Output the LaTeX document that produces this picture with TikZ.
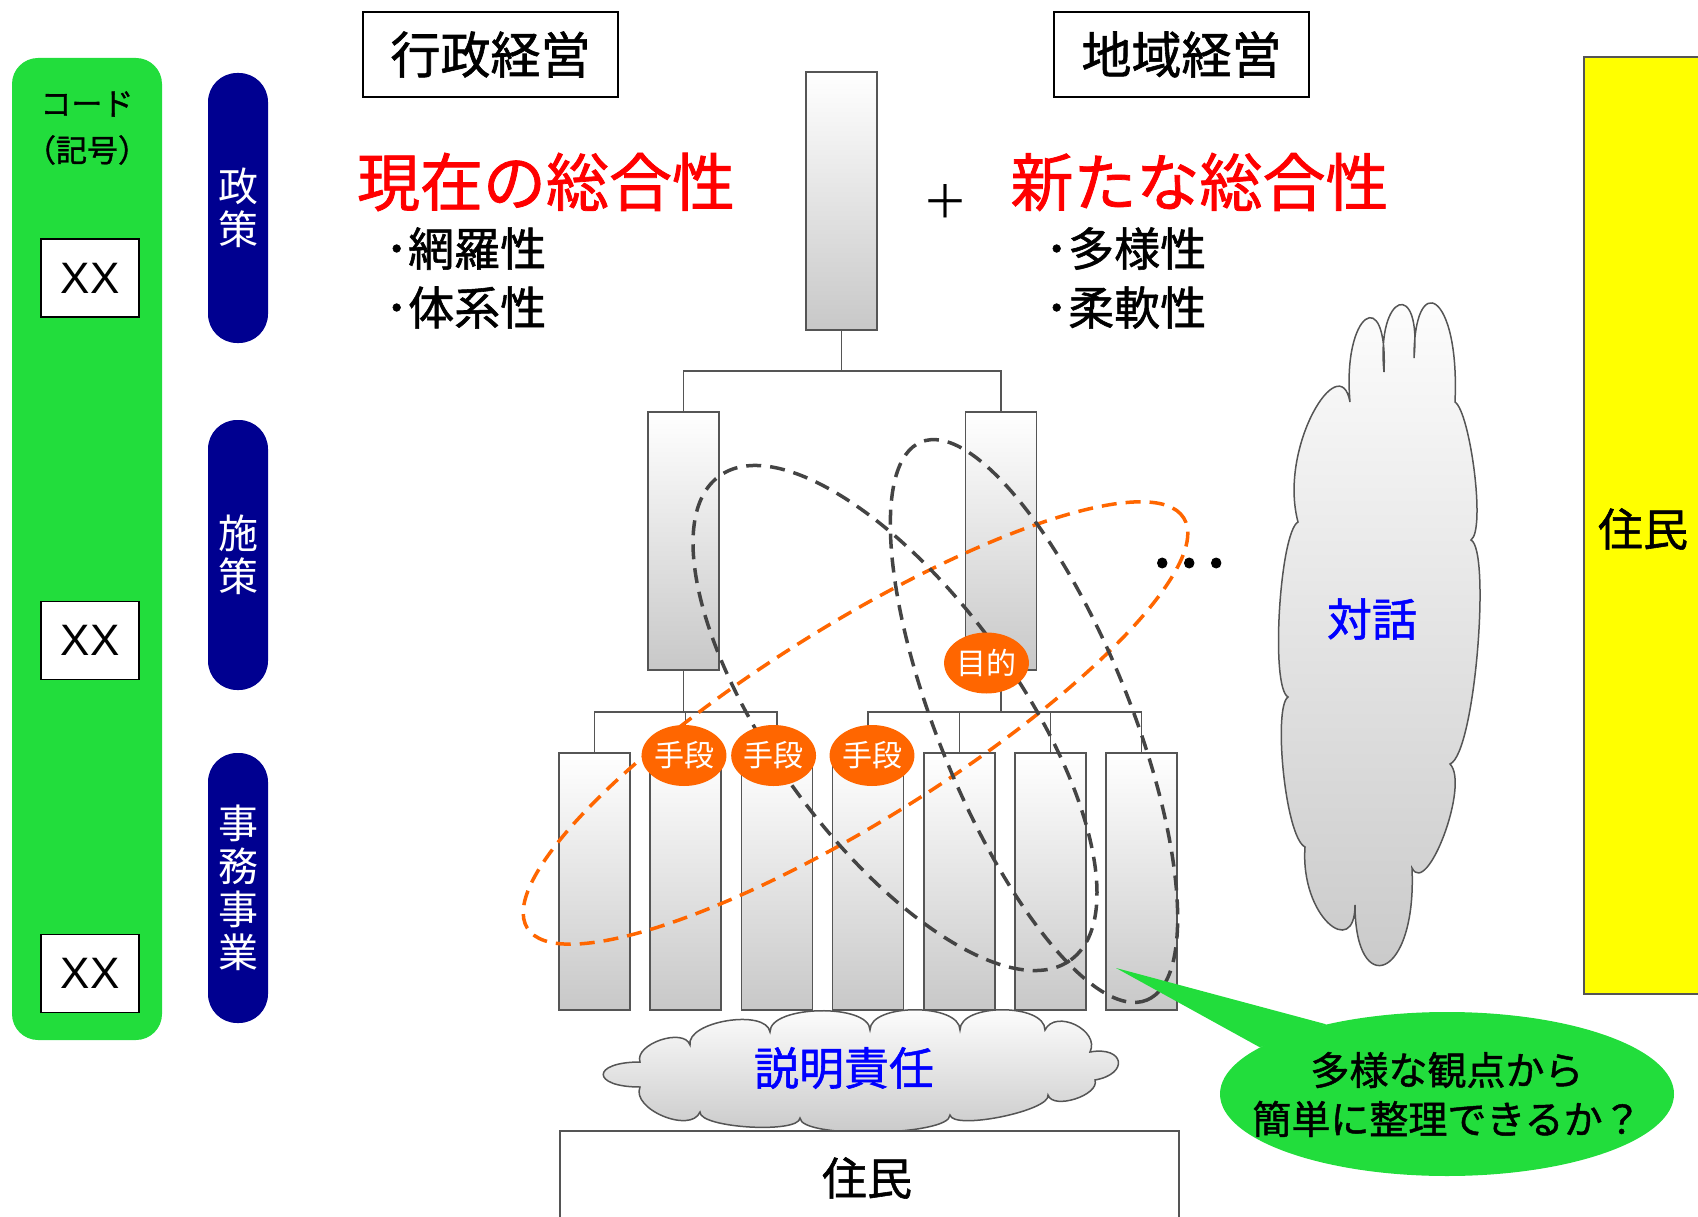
\documentclass[tikz,border=0pt]{standalone}
\usepackage{fontspec}
\setmainfont{Noto Sans CJK JP}
\newfontfamily\jb{Noto Sans CJK JP}[FakeBold=1.2]
\newfontfamily\latf{Liberation Sans}
\usetikzlibrary{shapes.geometric,calc}
\newcommand\jfs[1]{\fontsize{#1}{#1}\selectfont}
\definecolor{cgreen}{RGB}{34,221,60}
\definecolor{cnavy}{RGB}{0,0,144}
\definecolor{corange}{RGB}{255,102,0}
\definecolor{cgray}{RGB}{85,85,85}
\definecolor{cdash}{RGB}{68,68,68}
\definecolor{cbarbot}{RGB}{200,200,200}
\definecolor{cyellow}{RGB}{255,255,0}
\begin{document}
\begin{tikzpicture}[x=1pt,y=-1pt,
  barbox/.style={draw=cgray,line width=1.5pt,top color=white,bottom color=cbarbot,minimum width=71pt,inner sep=0pt},
  conn/.style={draw=cgray,line width=1.5pt},
  pill/.style={fill=cnavy,rounded corners=29pt,minimum width=60pt,minimum height=270pt,text=white,align=center,font=\fontsize{40}{43}\selectfont,inner sep=0pt},
  codebox/.style={draw=black,fill=white,line width=1.5pt,minimum width=98pt,minimum height=78pt,font=\latf\fontsize{44}{44}\selectfont,inner sep=0pt},
  titlebox/.style={draw=black,line width=1.5pt,minimum width=255pt,minimum height=85pt,font=\jb\jfs{50},inner sep=0pt},
  redtitle/.style={text=red,font=\jb\jfs{63},inner sep=0pt},
  bullets/.style={font=\jb\fontsize{46}{59}\selectfont,align=left,inner sep=0pt,anchor=west},
  meansoval/.style={ellipse,fill=corange,minimum width=74pt,minimum height=61pt,text=white,font=\jfs{30},inner sep=0pt},
  odash/.style={draw=corange,line width=3.5pt,dash pattern=on 15pt off 9pt,ellipse,inner sep=0pt},
  gdash/.style={draw=cdash,line width=3.5pt,dash pattern=on 15pt off 9pt,ellipse,inner sep=0pt},
  cloudfill/.style={draw=cgray,line width=1.5pt,top color=white,bottom color=cbarbot},
  bluetext/.style={text=blue,font=\jb\jfs{45},inner sep=0pt}
]
\useasboundingbox (0,0) rectangle (1698,1217);

% left code column
\node[fill=cgreen,rounded corners=26pt,minimum width=150pt,minimum height=982pt,inner sep=0pt] (codecol) at (87,549) {};
\node[font=\jb\jfs{31},inner sep=0pt] (codet) at (87,104) {コード};
\node[font=\jb\jfs{31},inner sep=0pt] (codek) at (87,150) {（記号）};
\node[codebox] (xx1) at (90,278) {XX};
\node[codebox] (xx2) at (90,640.5) {XX};
\node[codebox] (xx3) at (90,973.5) {XX};

% pills
\node[pill] (p1) at (238,208) {政\\策};
\node[pill] (p2) at (238,555) {施\\策};
\node[pill] (p3) at (238,888) {事\\務\\事\\業};

% titles
\node[titlebox] (gyosei) at (490.5,54.5) {行政経営};
\node[titlebox] (chiiki) at (1181.5,54.5) {地域経営};
\node[redtitle] (genzai) at (546,182) {現在の総合性};
\node[redtitle] (arata) at (1199.5,182) {新たな総合性};
\node[font=\jfs{46},inner sep=0pt] (plus) at (945,202) {＋};
\node[bullets] (bl1) at (385,278) {･網羅性\\･体系性};
\node[bullets] (bl2) at (1045,278) {･多様性\\･柔軟性};

% tree
\node[barbox,minimum height=258pt] (top) at (841.5,201) {};
\node[barbox,minimum height=258pt] (m1) at (683.5,541) {};
\node[barbox,minimum height=258pt] (m2) at (1001,541) {};
\foreach \i/\x in {1/594.5,2/685.7,3/776.9,4/868.1,5/959.3,6/1050.5,7/1141.7}
  \node[barbox,minimum height=257pt] (b\i) at (\x,881.5) {};

\draw[conn] (top.south) -- ++(0,40) coordinate (j0);
\draw[conn] (m1.north) |- (j0) -| (m2.north);
\draw[conn] (m1.south) -- ++(0,41) coordinate (j1);
\draw[conn] (b1.north) |- (j1) -| (b3.north);
\draw[conn] (b2.north) -- (b2.north |- j1);
\draw[conn] (m2.south) -- ++(0,41) coordinate (j2);
\draw[conn] (b4.north) |- (j2) -| (b7.north);
\draw[conn] (b5.north) -- (b5.north |- j2);
\draw[conn] (b6.north) -- (b6.north |- j2);

% dashed groupings
\node[odash,rotate=32,minimum width=774pt,minimum height=195pt] (oe) at (855.5,723) {};
\node[gdash,rotate=-54,minimum width=598pt,minimum height=246pt] (ge1) at (895,718) {};
\node[gdash,rotate=-68,minimum width=602pt,minimum height=192pt] (ge2) at (1034,721) {};

% ends / means
\node[meansoval] (mokuteki) at (986.5,663) {目的};
\node[meansoval] (s1) at (684,755.5) {手段};
\node[meansoval] (s2) at (773.6,755.5) {手段};
\node[meansoval] (s3) at (872,755.5) {手段};

\node[font=\jb\jfs{72},inner sep=0pt] (dots) at (1188,563) {…};

% dialogue cloud
\coordinate (c1) at (1414,358);
\coordinate (c2) at (1384,372);
\coordinate (c3) at (1350,402);
\coordinate (c4) at (1298,522);
\coordinate (c5) at (1288,697);
\coordinate (c6) at (1305,847);
\coordinate (c7) at (1355,905);
\coordinate (c8) at (1412,868);
\coordinate (c9) at (1450,764);
\coordinate (c10) at (1471,540);
\coordinate (c11) at (1455,402);
\path[cloudfill] (c1)
  .. controls +(8,-80) and +(-8,-80) .. (c2)
  .. controls +(4,-90) and +(-8,-90) .. (c3)
  .. controls +(-10,-55) and +(-20,-75) .. (c4)
  .. controls +(-18,10) and +(-18,-10) .. (c5)
  .. controls +(-15,10) and +(-20,-10) .. (c6)
  .. controls +(-5,70) and +(0,55) .. (c7)
  .. controls +(0,95) and +(5,112) .. (c8)
  .. controls +(15,30) and +(20,20) .. (c9)
  .. controls +(25,-10) and +(20,10) .. (c10)
  .. controls +(15,-10) and +(15,10) .. (c11)
  .. controls +(5,-110) and +(0,-90) .. (c1) -- cycle;
\node[bluetext] (dtext) at (1372,619) {対話};

% resident (right)
\node[fill=cyellow,minimum width=114pt,minimum height=937pt,inner sep=0pt] (jr) at (1641,525.5) {};
\draw[draw=cgray,line width=1.5pt] (jr.north east) -- (jr.north west) -- (jr.south west) -- (jr.south east);
\node[font=\jb\jfs{45},inner sep=0pt] (jrt) at (1643,529) {住民};

% accountability cloud
\coordinate (a1) at (1090,1052);
\coordinate (a2) at (1045,1030);
\coordinate (a3) at (960,1030);
\coordinate (a4) at (870,1030);
\coordinate (a5) at (770,1032);
\coordinate (a6) at (690,1045);
\coordinate (a7) at (640,1062);
\coordinate (a8) at (640,1087);
\coordinate (a9) at (700,1112);
\coordinate (a10) at (800,1118);
\coordinate (a11) at (950,1115);
\coordinate (a12) at (1048,1095);
\coordinate (a13) at (1095,1080);
\path[cloudfill] (a1)
  \foreach \p/\q/\h in {a1/a2/24,a2/a3/27,a3/a4/27,a4/a5/27,a5/a6/24,a6/a7/19,a7/a8/49,a8/a9/24,a9/a10/16,a10/a11/21,a11/a12/16,a12/a13/16,a13/a1/35}
  { .. controls ($(\p)!\h pt!-90:(\q)$) and ($(\q)!\h pt!90:(\p)$) .. (\q) } -- cycle;
\node[bluetext] (atext) at (844,1068) {説明責任};

% resident (bottom)
\node[fill=white,minimum width=619pt,minimum height=86pt,inner sep=0pt] (jb) at (869.5,1174) {};
\draw[draw=cgray,line width=1.5pt] (jb.south west) -- (jb.north west) -- (jb.north east) -- (jb.south east);
\node[font=\jb\jfs{45},inner sep=0pt] (jbt) at (867,1178) {住民};

% speech bubble
\node[ellipse,fill=cgreen,minimum width=454pt,minimum height=164pt,inner sep=0pt] (bub) at (1447,1094) {};
\coordinate (tip) at (1116,968);
\fill[cgreen] (bub.166) -- (tip) -- (bub.150) -- cycle;
\node[align=center,font=\jb\fontsize{39}{49}\selectfont,inner sep=0pt] (bubt) at (1447,1094.5) {多様な観点から\\簡単に整理できるか？};
\end{tikzpicture}
\end{document}
